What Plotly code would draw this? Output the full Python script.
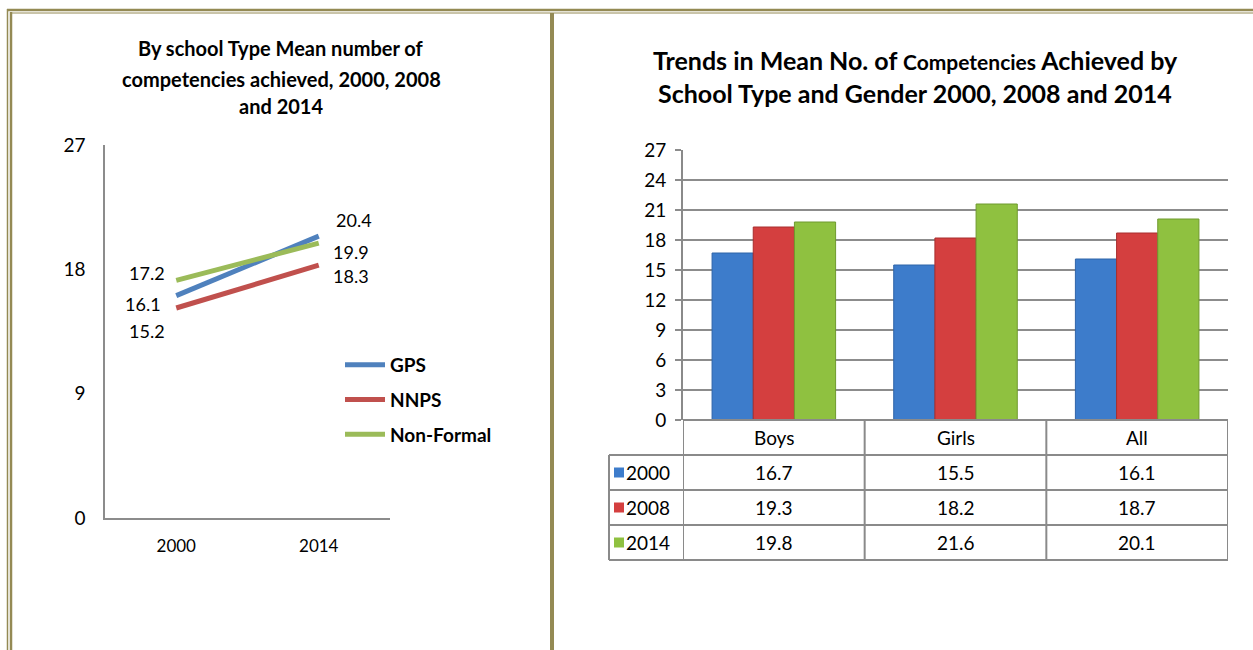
import plotly.graph_objects as go

# ---------------- data ----------------
line_years = ["2000", "2014"]
series_names = ["GPS", "NNPS", "Non-Formal"]
gps_values = [16.1, 20.4]
nnps_values = [15.2, 18.3]
nonformal_values = [17.2, 19.9]

bar_categories = ["Boys", "Girls", "All"]
bar_years = ["2000", "2008", "2014"]
bars_2000 = [16.7, 15.5, 16.1]
bars_2008 = [19.3, 18.2, 18.7]
bars_2014 = [19.8, 21.6, 20.1]

left_ticks = [0, 9, 18, 27]
right_ticks = [0, 3, 6, 9, 12, 15, 18, 21, 24, 27]

# ---------------- styles ----------------
W, H = 1253, 650
FONT = "Lato"
line_colors = ["#4F81BD", "#C0504D", "#9BBB59"]
bar_colors = ["#3D7CCB", "#D43F3F", "#8FC140"]
bar_edges = ["#2F64A8", "#A82E2E", "#6F9A2E"]
border = "#948A54"
grid = "#8C8C8C"
tcol = "#8A8A8A"

def PX(x):
    return x / W

def PY(y):
    return 1 - y / H

def txt(x, y, text, size=19, xref="paper", yref="paper", xanchor="center", **kw):
    d = dict(x=x, y=y, xref=xref, yref=yref, text=text, showarrow=False,
             xanchor=xanchor, yanchor="middle", font=dict(family=FONT, size=size, color="#000"))
    d.update(kw)
    return d

fig = go.Figure()

# ---- left line chart ----
line_data = [gps_values, nnps_values, nonformal_values]
for name, vals, col in zip(series_names, line_data, line_colors):
    fig.add_trace(go.Scatter(
        x=line_years, y=vals, mode="lines", name=name,
        line=dict(color=col, width=5), xaxis="x", yaxis="y",
        legendgroup=name, showlegend=True, hoverinfo="skip"))

# data label offsets (px) for [start, end] of each series
label_shift = {
    "GPS": [(-33, -8), (35, 16)],
    "NNPS": [(-29, -23), (32, -11)],
    "Non-Formal": [(-29, 7), (32, -9)],
}
annotations = []
for name, vals in zip(series_names, line_data):
    for i, v in enumerate(vals):
        dx, dy = label_shift[name][i]
        annotations.append(txt(i, v, f"{v}", size=18, xref="x", yref="y", xshift=dx, yshift=dy))

# ---- right bar chart ----
bar_data = [bars_2000, bars_2008, bars_2014]
for yr, vals, col, edge in zip(bar_years, bar_data, bar_colors, bar_edges):
    fig.add_trace(go.Bar(
        x=bar_categories, y=vals, name=yr,
        marker=dict(color=col, line=dict(color=edge, width=1)),
        xaxis="x2", yaxis="y2", showlegend=False, hoverinfo="skip"))

# ---- table under the bar chart ----
shapes = []
row_edges = [420, 455, 490, 525, 560]
ncat = len(bar_categories)
for i, ry in enumerate(row_edges):
    if i == 0:
        shapes.append(dict(type="line", xref="x2", yref="paper", x0=-0.5, x1=ncat - 0.5,
                           y0=PY(ry), y1=PY(ry), line=dict(color=tcol, width=2)))
    else:
        shapes.append(dict(type="line", xref="paper", yref="paper", x0=PX(609), x1=PX(1228),
                           y0=PY(ry), y1=PY(ry), line=dict(color=tcol, width=2)))
for k in range(ncat + 1):
    shapes.append(dict(type="line", xref="x2", yref="paper", x0=k - 0.5, x1=k - 0.5,
                       y0=PY(420), y1=PY(560), line=dict(color=tcol, width=2)))
shapes.append(dict(type="line", xref="paper", yref="paper", x0=PX(609), x1=PX(609),
                   y0=PY(455), y1=PY(560), line=dict(color=tcol, width=2)))

for j, cat in enumerate(bar_categories):
    annotations.append(txt(j, PY(437.5), cat, xref="x2"))
for r, (yr, vals, col) in enumerate(zip(bar_years, bar_data, bar_colors)):
    cy = (row_edges[r + 1] + row_edges[r + 2]) / 2
    shapes.append(dict(type="rect", xref="paper", yref="paper", x0=PX(614), x1=PX(624),
                       y0=PY(cy + 5), y1=PY(cy - 5), fillcolor=col, line=dict(width=0)))
    annotations.append(txt(PX(624), PY(cy), yr, xanchor="left"))
    for j, v in enumerate(vals):
        annotations.append(txt(j, PY(cy), f"{v}", xref="x2"))

# ---- titles ----
left_title = ["By school Type Mean number of", "competencies achieved, 2000, 2008", "and 2014"]
for t, ty in zip(left_title, [48, 79, 106]):
    annotations.append(txt(PX(281), PY(ty), f"<b>{t}</b>", size=20))
right_title = ["Trends in Mean No. of <span style='font-size:21px'>Competencies</span> Achieved by",
               "School Type and Gender 2000, 2008 and 2014"]
for t, ty in zip(right_title, [60, 93]):
    annotations.append(txt(PX(915), PY(ty), f"<b>{t}</b>", size=25))

# ---- page borders ----
def seg(x0, y0, x1, y1, w):
    return dict(type="line", xref="paper", yref="paper", x0=PX(x0), y0=PY(y0), x1=PX(x1), y1=PY(y1),
                line=dict(color=border, width=w))

shapes += [
    seg(7, 10, W, 10, 2.5),
    seg(11, 13, W, 13, 1),
    seg(7.5, 9, 7.5, H, 1.5),
    seg(11, 12, 11, H, 2.5),
    seg(552, 13, 552, H, 4),
]

fig.update_layout(
    width=W, height=H, margin=dict(l=0, r=0, t=0, b=0, pad=0, autoexpand=False),
    paper_bgcolor="white", plot_bgcolor="rgba(0,0,0,0)",
    font=dict(family=FONT, size=17, color="#000"),
    xaxis=dict(domain=[PX(105), PX(390)], type="category", range=[-0.5, 1.5],
               showline=True, linecolor=grid, linewidth=1.5, showgrid=False, zeroline=False,
               ticks="", ticklabelstandoff=12, tickfont=dict(family=FONT, size=17)),
    yaxis=dict(domain=[PY(518), PY(145)], range=[0, 27], tickvals=left_ticks,
               showline=True, linecolor=grid, linewidth=1.5, showgrid=False, zeroline=False,
               ticks="", ticklabelstandoff=14, tickfont=dict(family=FONT, size=19)),
    xaxis2=dict(domain=[PX(683), PX(1228)], type="category", range=[-0.5, 2.5],
                showticklabels=False, showline=False, showgrid=False, zeroline=False, ticks=""),
    yaxis2=dict(domain=[PY(420), PY(150)], range=[0, 27], tickvals=right_ticks, anchor="x2",
                showline=True, linecolor=tcol, linewidth=2, showgrid=True, gridcolor=grid, gridwidth=1.5,
                zeroline=False, ticks="outside", ticklen=6, tickcolor=grid, tickwidth=1.5,
                ticklabelstandoff=5, tickfont=dict(family=FONT, size=19)),
    barmode="group", bargap=0.32, bargroupgap=0,
    showlegend=True,
    legend=dict(x=PX(340), y=PY(346), xanchor="left", yanchor="top",
                font=dict(family=FONT, size=19, weight="bold", color="#000"),
                tracegroupgap=7, bgcolor="rgba(0,0,0,0)", itemwidth=40),
    shapes=shapes, annotations=annotations,
)
fig.write_html("out.html", config={"displayModeBar": False},
               post_script="document.body.style.margin='0px';")
